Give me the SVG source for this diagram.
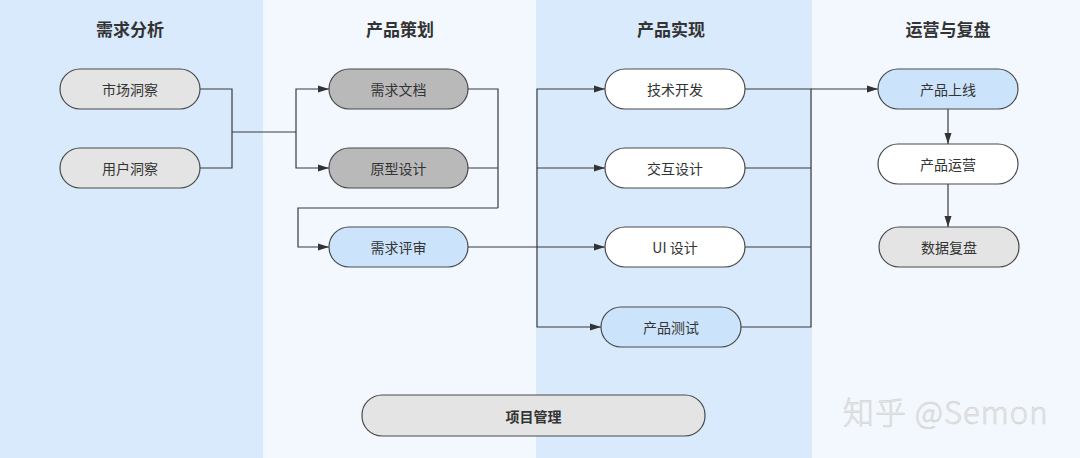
<svg xmlns="http://www.w3.org/2000/svg" width="1080" height="458" viewBox="0 0 1080 458">
<style>
.lane-a{fill:#d9eafc}
.lane-b{fill:#f2f8fe}
.hd{font-family:"Noto Sans CJK SC","Noto Sans",sans-serif;font-size:17px;font-weight:bold;fill:#333;text-anchor:middle}
.nd{stroke:#4a4a4a;stroke-width:1.2}
.t{font-family:"Noto Sans CJK SC","Noto Sans",sans-serif;font-size:14px;fill:#333;text-anchor:middle;dominant-baseline:central}
.w{fill:#ffffff}.g{fill:#e4e4e4}.dg{fill:#b9b9b9}.b{fill:#cce4fb}
.c{fill:none;stroke:#3a3a3a;stroke-width:1.2}
</style>
<defs>
<marker id="ah" markerWidth="12" markerHeight="8" refX="11" refY="4" orient="auto" markerUnits="userSpaceOnUse">
<path d="M0,0.5 L11,4 L0,7.5 Z" fill="#333"/>
</marker>
</defs>
<g id="lanes">
<rect class="lane-a" x="0" y="0" width="263" height="458"/>
<rect class="lane-b" x="263" y="0" width="273" height="458"/>
<rect class="lane-a" x="536" y="0" width="276" height="458"/>
<rect class="lane-b" x="812" y="0" width="268" height="458"/>
<text class="hd" x="130" y="36">需求分析</text>
<text class="hd" x="400" y="36">产品策划</text>
<text class="hd" x="671" y="36">产品实现</text>
<text class="hd" x="948" y="36">运营与复盘</text>
</g>
<g id="connectors">
<path class="c" d="M200,89 H232 V168 H200"/>
<path class="c" d="M232,132 H296"/>
<path class="c" d="M296,132 V89 H329" marker-end="url(#ah)"/>
<path class="c" d="M296,132 V168 H329" marker-end="url(#ah)"/>
<path class="c" d="M468,89 H498 V208 M468,168 H498"/>
<path class="c" d="M498,208 H298 V247 H329" marker-end="url(#ah)"/>
<path class="c" d="M468,247 H537"/>
<path class="c" d="M537,247 V89 H605" marker-end="url(#ah)"/>
<path class="c" d="M537,168 H605" marker-end="url(#ah)"/>
<path class="c" d="M537,247 H605" marker-end="url(#ah)"/>
<path class="c" d="M537,247 V327 H601" marker-end="url(#ah)"/>
<path class="c" d="M745,89 H811 V327 H741 M745,168 H811 M745,247 H811"/>
<path class="c" d="M811,89 H878" marker-end="url(#ah)"/>
<path class="c" d="M948,109 V144" marker-end="url(#ah)"/>
<path class="c" d="M948,184 V227" marker-end="url(#ah)"/>
</g>
<g id="n-market"><rect class="nd g" x="60" y="69" width="140" height="40" rx="20"/><text class="t" x="130" y="89">市场洞察</text></g>
<g id="n-user"><rect class="nd g" x="60" y="148" width="140" height="40" rx="20"/><text class="t" x="130" y="168">用户洞察</text></g>
<g id="n-doc"><rect class="nd dg" x="329" y="69" width="139" height="40" rx="20"/><text class="t" x="398.5" y="89">需求文档</text></g>
<g id="n-proto"><rect class="nd dg" x="329" y="148" width="139" height="40" rx="20"/><text class="t" x="398.5" y="168">原型设计</text></g>
<g id="n-review"><rect class="nd b" x="329" y="227" width="139" height="40" rx="20"/><text class="t" x="398.5" y="247">需求评审</text></g>
<g id="n-dev"><rect class="nd w" x="605" y="69" width="140" height="40" rx="20"/><text class="t" x="675" y="89">技术开发</text></g>
<g id="n-ixd"><rect class="nd w" x="605" y="148" width="140" height="40" rx="20"/><text class="t" x="675" y="168">交互设计</text></g>
<g id="n-ui"><rect class="nd w" x="605" y="227" width="140" height="40" rx="20"/><text class="t" x="675" y="247">UI 设计</text></g>
<g id="n-test"><rect class="nd b" x="601" y="307" width="140" height="40" rx="20"/><text class="t" x="671" y="327">产品测试</text></g>
<g id="n-launch"><rect class="nd b" x="878" y="69" width="140" height="40" rx="20"/><text class="t" x="948" y="89">产品上线</text></g>
<g id="n-ops"><rect class="nd w" x="878" y="144" width="140" height="40" rx="20"/><text class="t" x="948" y="164">产品运营</text></g>
<g id="n-data"><rect class="nd g" x="879" y="227" width="140" height="40" rx="20"/><text class="t" x="949" y="247">数据复盘</text></g>
<g id="n-pm"><rect class="nd g" x="362" y="395" width="343" height="41" rx="20"/><text class="t" x="533.5" y="415.5" font-weight="bold">项目管理</text></g>
<g id="watermark">
<text x="843" y="424" font-family="Noto Sans CJK SC,Noto Sans,sans-serif" font-size="31" font-weight="300" letter-spacing="1" fill="#e8e8e8" stroke="#cccccc" stroke-width="0.5">知乎 @Semon</text>
</g>
</svg>
